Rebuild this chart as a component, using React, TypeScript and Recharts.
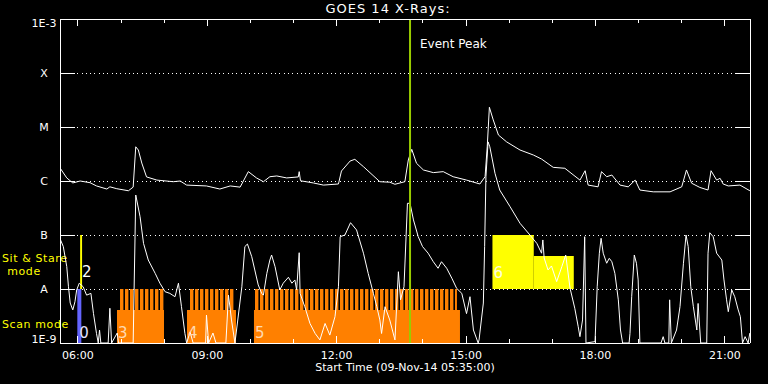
import {
  ComposedChart,
  Line,
  XAxis,
  YAxis,
  CartesianGrid,
  ReferenceArea,
  ReferenceLine,
} from 'recharts';

const FONT = '"DejaVu Sans", sans-serif';

// GOES 14 long channel (1-8 A), hours UT on 09-Nov-14
const longTimes = [
  5.6, 5.74, 5.88, 6.05, 6.28, 6.43, 6.67, 6.74, 6.9, 7.17, 7.28, 7.34, 7.4, 7.48, 7.59, 7.83,
  8.21, 8.37, 8.52, 8.98, 9.29, 9.53, 9.76, 9.95, 10.14, 10.3, 10.45, 10.61, 10.84, 11.11, 11.13,
  11.16, 11.46, 11.69, 12.04, 12.11, 12.31, 12.42, 12.62, 13.0, 13.23, 13.35, 13.58, 13.66, 13.74,
  13.85, 14.01, 14.24, 14.47, 14.7, 15.01, 15.32, 15.44, 15.49, 15.54, 15.63, 15.75, 15.94, 16.25,
  16.56, 16.75, 17.02, 17.29, 17.64, 17.76, 17.83, 18.06, 18.14, 18.26, 18.38, 18.57, 18.76, 18.92,
  19.03, 19.34, 19.73, 20.0, 20.11, 20.23, 20.42, 20.61, 20.68, 20.81, 20.89, 20.96, 21.08, 21.35,
  21.58,
];
const longFlux = [
  1.67e-6, 1.14e-6, 9.2e-7, 1.0e-6, 9.3e-7, 8.1e-7, 7.1e-7, 7.8e-7, 7.2e-7, 6.6e-7, 7.7e-7, 4.3e-6,
  3.75e-6, 2.15e-6, 1.19e-6, 1.04e-6, 9.7e-7, 1.0e-6, 8.4e-7, 8.1e-7, 7.1e-7, 8.1e-7, 7.7e-7,
  1.49e-6, 1.14e-6, 9.7e-7, 1.2e-6, 1.24e-6, 1.14e-6, 1.19e-6, 1.49e-6, 1.01e-6, 9.2e-7, 8.4e-7,
  8.8e-7, 1.53e-6, 2.34e-6, 2.52e-6, 1.84e-6, 9.7e-7, 9.5e-7, 8.7e-7, 9.7e-7, 2.45e-6, 3.86e-6,
  2.13e-6, 1.6e-6, 1.43e-6, 1.49e-6, 1.2e-6, 1.04e-6, 8.8e-7, 1.2e-6, 4.3e-6, 2.32e-5, 1.35e-5,
  7.1e-6, 5.3e-6, 3.75e-6, 3.03e-6, 2.55e-6, 1.79e-6, 1.72e-6, 1.04e-6, 1.55e-6, 8.4e-7, 7.8e-7,
  1.49e-6, 1.2e-6, 1.29e-6, 8.4e-7, 7.8e-7, 1.04e-6, 6.8e-7, 6.3e-7, 6.3e-7, 7.8e-7, 1.6e-6,
  9.1e-7, 7.6e-7, 6.8e-7, 1.55e-6, 1.04e-6, 1.12e-6, 8.8e-7, 8.1e-7, 8.4e-7, 6.6e-7,
];

// short channel (0.5-4 A)
const shortTimes = [
  5.58, 5.66, 5.74, 5.78, 5.82, 5.88, 5.93, 5.97, 6.03, 6.12, 6.2, 6.3, 6.36, 6.43, 6.47, 6.5, 6.53,
  6.7, 6.74, 6.78, 6.91, 6.94, 7.28, 7.34, 7.44, 7.52, 7.63, 7.79, 7.9, 8.02, 8.13, 8.25, 8.33, 8.4,
  8.48, 8.52, 8.6, 8.67, 8.96, 8.98, 9.03, 9.13, 9.2, 9.43, 9.49, 9.56, 9.64, 9.8, 9.87, 9.93, 10.03,
  10.1, 10.18, 10.26, 10.3, 10.38, 10.45, 10.49, 10.57, 10.68, 10.76, 10.88, 10.96, 11.03, 11.07,
  11.13, 11.15, 11.26, 11.38, 11.5, 11.61, 11.73, 11.84, 11.96, 12.04, 12.08, 12.19, 12.32, 12.46,
  12.62, 12.73, 12.85, 12.93, 13.0, 13.04, 13.12, 13.23, 13.35, 13.43, 13.48, 13.56, 13.64, 13.7,
  13.78, 13.89, 13.99, 14.12, 14.24, 14.35, 14.43, 14.55, 14.67, 14.78, 14.9, 15.01, 15.09, 15.17,
  15.28, 15.3, 15.4, 15.43, 15.46, 15.51, 15.55, 15.67, 15.78, 16.02, 16.25, 16.48, 16.64, 16.75,
  16.78, 16.81, 16.9, 16.98, 17.1, 17.22, 17.31, 17.41, 17.52, 17.6, 17.64, 17.7, 17.75, 17.78,
  17.99, 18.04, 18.09, 18.13, 18.18, 18.26, 18.32, 18.38, 18.45, 18.53, 18.58, 18.63, 18.78, 18.8,
  18.84, 18.9, 18.95, 18.99, 19.03, 19.52, 19.57, 19.61, 19.7, 19.72, 19.76, 19.88, 19.96, 20.04,
  20.1, 20.15, 20.21, 20.27, 20.35, 20.38, 20.44, 20.58, 20.61, 20.65, 20.73, 20.81, 20.93, 20.98,
  21.04, 21.08, 21.16, 21.23, 21.31, 21.36, 21.41, 21.47, 21.54, 21.58,
];
const shortFlux = [
  8.7e-8, 6.1e-8, 2.6e-8, 1.1e-8, 5.5e-9, 4.1e-9, 5.8e-9, 9.6e-9, 1.28e-8, 1.1e-8, 7.7e-9, 8.3e-9,
  3.5e-9, 1.5e-9, 1e-9, 1.74e-9, 1e-9, 1e-9, 4.4e-9, 1e-9, 1.53e-9, 1e-9, 1e-9, 5.5e-7, 2.18e-7,
  7.0e-8, 3.44e-8, 1.95e-8, 1.28e-8, 8.9e-9, 8.3e-9, 7.2e-9, 1.28e-8, 4.7e-9, 1.5e-9, 1e-9, 1.6e-9,
  1e-9, 1e-9, 3.3e-9, 1e-9, 1.53e-9, 1e-9, 1e-9, 7.7e-9, 2.67e-9, 1e-9, 1.1e-8, 6.1e-8, 6.8e-8,
  3.96e-8, 2.25e-8, 1.19e-8, 8.3e-9, 7.7e-9, 1.95e-8, 3.44e-8, 4.26e-8, 2.59e-8, 9.6e-9, 1.28e-8,
  1.65e-8, 1.28e-8, 1.47e-8, 9.6e-9, 4.7e-8, 8.3e-9, 4.7e-9, 2.3e-9, 1.5e-9, 1.14e-9, 2.3e-9,
  1.4e-9, 3.07e-9, 1.1e-8, 9.3e-8, 1.0e-7, 1.69e-7, 1.24e-7, 4.6e-8, 1.95e-8, 8.3e-9, 4.7e-9,
  2.67e-9, 1.5e-9, 4.7e-9, 2.67e-9, 1.14e-9, 2.09e-8, 6.3e-9, 1.1e-8, 3.86e-7, 3.86e-7, 1.9e-7,
  9.3e-8, 6.1e-8, 4.6e-8, 3.2e-8, 2.42e-8, 3.2e-8, 2.42e-8, 1.58e-8, 1.03e-8, 8.3e-9, 3.5e-9,
  7.2e-9, 1.74e-9, 1e-9, 1.14e-9, 5.5e-9, 6.1e-8, 1.2e-6, 5.3e-6, 4.3e-6, 1.39e-6, 6.8e-7, 3.34e-7,
  1.65e-7, 1.0e-7, 7.0e-8, 4.6e-8, 8.1e-8, 3.75e-8, 2.25e-8, 2.67e-8, 1.37e-8, 2.59e-8, 4.26e-8,
  1.04e-8, 4.4e-9, 2.0e-9, 1.31e-9, 2.67e-9, 9.3e-8, 1e-9, 1.06e-9, 1.1e-8, 4.6e-8, 8.7e-8, 4.6e-8,
  3.0e-8, 3.7e-8, 3.2e-8, 1.95e-8, 6.3e-9, 1.74e-9, 1e-9, 1e-9, 1.5e-9, 7.2e-9, 4.26e-8, 3.0e-8,
  1.47e-8, 1e-9, 1e-9, 1.31e-9, 1e-9, 1e-9, 6.3e-9, 1e-9, 1.74e-9, 4.7e-9, 3.0e-8, 1.0e-7, 6.1e-8,
  1.1e-8, 4.7e-9, 1.74e-9, 5.4e-9, 1e-9, 1e-9, 4.6e-8, 1.1e-7, 9.3e-8, 4.6e-8, 3.44e-8, 1.47e-8,
  6.3e-9, 3.8e-9, 9.6e-9, 7.2e-9, 4.1e-9, 3.07e-9, 1e-9, 1.31e-9, 1e-9, 1.53e-9,
];

// flare class levels
const levelValues = [1e-9, 1e-8, 1e-7, 1e-6, 1e-5, 1e-4, 1e-3];
const levelNames = ['1E-9', 'A', 'B', 'C', 'M', 'X', '1E-3'];

const hourTicks = [6, 7, 8, 9, 10, 11, 12, 13, 14, 15, 16, 17, 18, 19, 20, 21];

// scan mode blocks (hours) and their levels
const scanIds = ['3', '4', '5'];
const scanStart = [6.905, 8.528, 10.081];
const scanEnd = [7.995, 9.664, 14.858];
const combStart = [6.975, 8.574, 10.081];
const combEnd = [7.995, 9.618, 14.788];
const scanTop = 4.1e-9;
const combTop = 1e-8;

// sit & stare intervals
const stareBlue = { id: '0', start: 5.985, end: 6.078, top: 1e-8 };
const stareLine = { id: '2', start: 6.05, end: 6.095, low: 1e-8, high: 1e-7 };
const stareBox = [
  { start: 15.611, end: 16.569, low: 1e-8, high: 1e-7 },
  { start: 16.569, end: 17.497, low: 1e-8, high: 4.1e-8 },
];
const eventPeak = 13.7;

const longData = longTimes.map((t, i) => ({ t, v: longFlux[i] }));
const shortData = shortTimes.map((t, i) => ({ t, v: shortFlux[i] }));

const X_DOMAIN = [5.5833, 21.5833];
const Y_DOMAIN = [1e-9, 1e-3];

const LevelTick = (props: any) => {
  const { x, y, payload } = props;
  const i = Math.round(Math.log10(payload.value)) + 9;
  const dy = i === 0 ? 0 : i === levelNames.length - 1 ? 8 : 4;
  return (
    <g>
      <line x1={x} x2={x + 15} y1={y} y2={y} stroke="#fff" shapeRendering="crispEdges" />
      <text x={x - 16} y={y + dy} textAnchor="middle" fill="#fff" fontSize={11} fontFamily={FONT}>
        {levelNames[i]}
      </text>
    </g>
  );
};

const RightTick = (props: any) => {
  const { x, y } = props;
  return <line x1={x} x2={x - 15} y1={y} y2={y} stroke="#fff" shapeRendering="crispEdges" />;
};

const HourTick = (props: any) => {
  const { x, y, payload, top } = props;
  const major = payload.value % 3 === 0;
  const len = major ? 7 : 4;
  const label = `${String(payload.value).padStart(2, '0')}:00`;
  return (
    <g>
      <line x1={x} x2={x} y1={y} y2={top ? y + len : y - len} stroke="#fff" shapeRendering="crispEdges" />
      {!top && major && (
        <text x={x} y={y + 15.5} textAnchor="middle" fill="#fff" fontSize={11} fontFamily={FONT}>
          {label}
        </text>
      )}
    </g>
  );
};

const digitLabel = (value: string, fill: string, extra: any = {}) => ({
  value,
  position: 'insideBottomLeft',
  offset: 5,
  dx: -4,
  fill,
  fontSize: 15,
  fontFamily: FONT,
  ...extra,
});

export default function App() {
  return (
    <div style={{ position: 'absolute', left: 0, top: 0, width: 768, height: 384, background: '#000' }}>
      <ComposedChart width={768} height={384} margin={{ top: 0, right: 0, bottom: 0, left: 0 }}>
        <defs>
          <pattern id="scanComb" x="0" y="0" width="5" height="8" patternUnits="userSpaceOnUse">
            <rect x="0" y="0" width="3.4" height="8" fill="#ff8000" />
          </pattern>
        </defs>
        <CartesianGrid
          vertical={false}
          stroke="#fff"
          strokeDasharray="1 3.3"
          shapeRendering="crispEdges"
        />
        <XAxis
          type="number"
          dataKey="t"
          domain={X_DOMAIN}
          allowDataOverflow
          ticks={hourTicks}
          interval={0}
          height={41}
          tickSize={0}
          tickMargin={0}
          tickLine={false}
          axisLine={{ stroke: '#fff', shapeRendering: 'crispEdges' }}
          tick={(p: any) => <HourTick {...p} />}
          label={{
            value: 'Start Time (09-Nov-14 05:35:00)',
            position: 'insideBottom',
            offset: 13,
            fill: '#fff',
            fontSize: 11,
            fontFamily: FONT,
          }}
        />
        <XAxis
          xAxisId="top"
          orientation="top"
          type="number"
          dataKey="t"
          domain={X_DOMAIN}
          allowDataOverflow
          ticks={hourTicks}
          interval={0}
          height={19}
          tickSize={0}
          tickMargin={0}
          tickLine={false}
          axisLine={{ stroke: '#fff', shapeRendering: 'crispEdges' }}
          tick={(p: any) => <HourTick {...p} top />}
        />
        <YAxis
          type="number"
          scale="log"
          domain={Y_DOMAIN}
          allowDataOverflow
          ticks={levelValues}
          interval={0}
          width={60}
          tickSize={0}
          tickMargin={0}
          tickLine={false}
          axisLine={{ stroke: '#fff', shapeRendering: 'crispEdges' }}
          tick={(p: any) => <LevelTick {...p} />}
        />
        <YAxis
          yAxisId="r"
          orientation="right"
          type="number"
          scale="log"
          domain={Y_DOMAIN}
          allowDataOverflow
          ticks={levelValues}
          interval={0}
          width={18}
          tickSize={0}
          tickMargin={0}
          tickLine={false}
          axisLine={{ stroke: '#fff', shapeRendering: 'crispEdges' }}
          tick={(p: any) => <RightTick {...p} />}
        />

        {scanIds.map((id, i) => (
          <ReferenceArea
            key={`scan-${id}`}
            x1={scanStart[i]}
            x2={scanEnd[i]}
            y1={1e-9}
            y2={scanTop}
            fill="#ff8000"
            fillOpacity={1}
            stroke="none"
            label={digitLabel(id, '#ffd9b0')}
          />
        ))}
        {scanIds.map((id, i) => (
          <ReferenceArea
            key={`comb-${id}`}
            x1={combStart[i]}
            x2={combEnd[i]}
            y1={scanTop}
            y2={combTop}
            fill="url(#scanComb)"
            fillOpacity={1}
            stroke="none"
          />
        ))}
        <ReferenceArea
          x1={stareBlue.start}
          x2={stareBlue.end}
          y1={1e-9}
          y2={stareBlue.top}
          fill="#6464ff"
          fillOpacity={1}
          stroke="none"
          label={digitLabel(stareBlue.id, '#e0e0ff', { dx: -3 })}
        />
        <ReferenceArea
          x1={stareLine.start}
          x2={stareLine.end}
          y1={stareLine.low}
          y2={stareLine.high}
          fill="#ffff00"
          fillOpacity={1}
          stroke="none"
          label={{ value: stareLine.id, position: 'right', offset: 0, dy: 10, fill: '#fff', fontSize: 15, fontFamily: FONT }}
        />
        {stareBox.map((b, i) => (
          <ReferenceArea
            key={`stare-${i}`}
            x1={b.start}
            x2={b.end}
            y1={b.low}
            y2={b.high}
            fill="#ffff00"
            fillOpacity={1}
            stroke="none"
            label={i === 0 ? digitLabel('6', '#ffffe0', { dy: -6 }) : undefined}
          />
        ))}

        <Line
          data={longData}
          dataKey="v"
          type="linear"
          stroke="#fff"
          strokeWidth={1}
          dot={false}
          isAnimationActive={false}
        />
        <Line
          data={shortData}
          dataKey="v"
          type="linear"
          stroke="#fff"
          strokeWidth={1}
          dot={false}
          isAnimationActive={false}
        />
        <ReferenceLine
          x={eventPeak}
          stroke="#99cc00"
          strokeWidth={2}
          label={{
            value: 'Event Peak',
            position: 'insideTopLeft',
            offset: 10,
            dy: 10,
            fill: '#fff',
            fontSize: 12,
            fontFamily: FONT,
          }}
        />

        <text x={388} y={13} textAnchor="middle" fill="#fff" fontSize={13} letterSpacing={1} fontFamily={FONT}>
          GOES 14 X-Rays:
        </text>
        <text x={2} y={262} fill="#ffff00" fontSize={11} letterSpacing={0.6} fontFamily={FONT}>
          Sit &amp; Stare
        </text>
        <text x={24} y={275} textAnchor="middle" fill="#ffff00" fontSize={11} letterSpacing={0.6} fontFamily={FONT}>
          mode
        </text>
        <text x={2} y={328} fill="#ffff00" fontSize={11} letterSpacing={0.6} fontFamily={FONT}>
          Scan mode
        </text>
      </ComposedChart>
    </div>
  );
}
